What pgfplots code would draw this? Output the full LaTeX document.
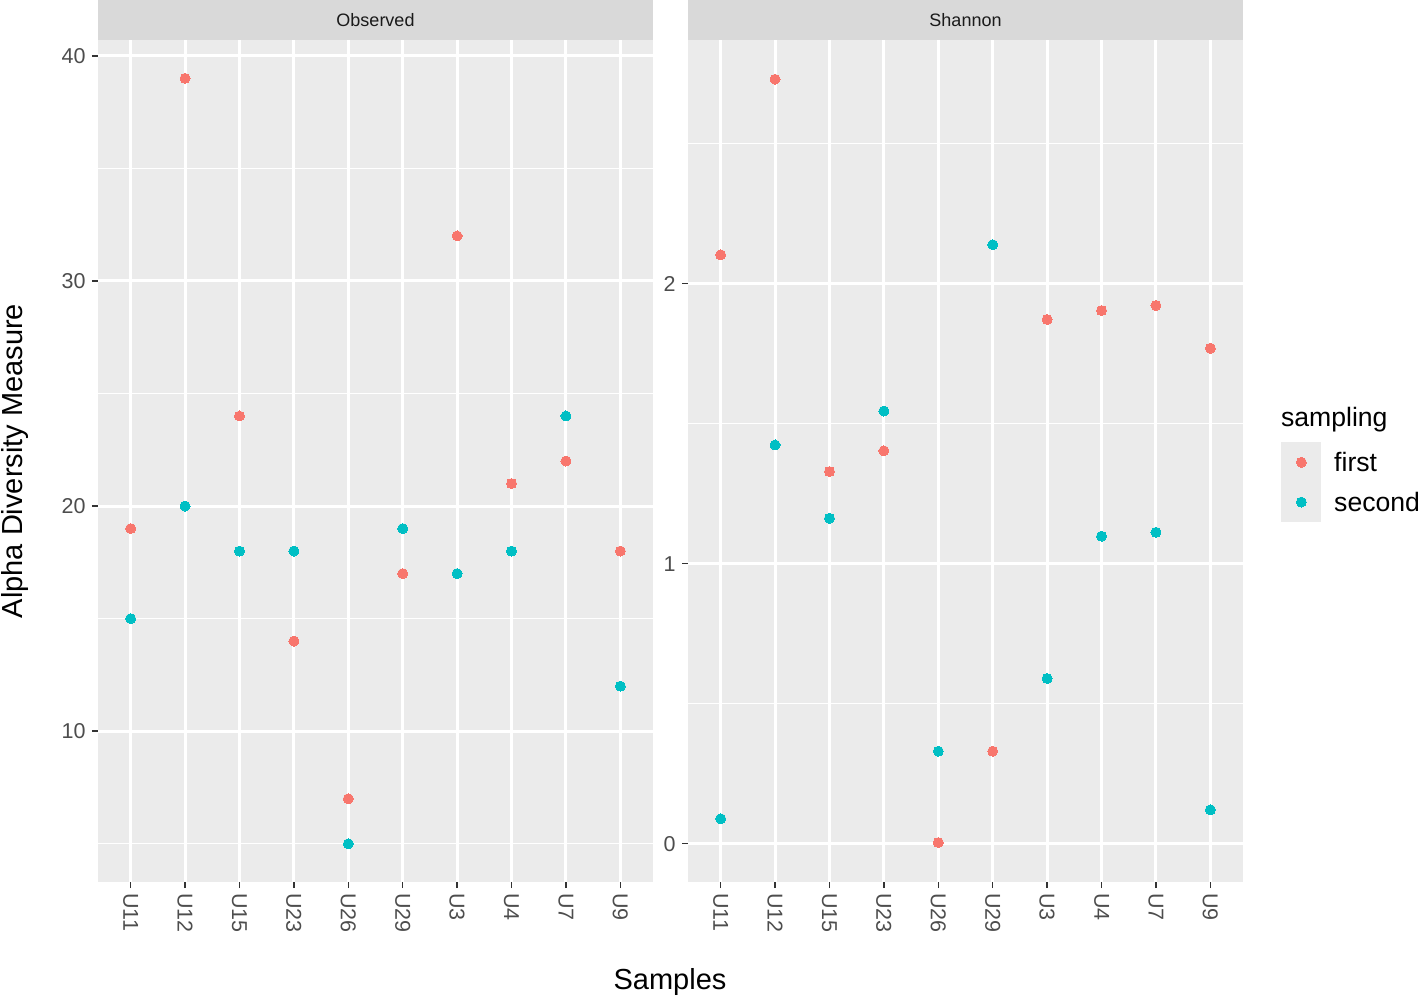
\documentclass[border=0pt]{standalone}
\usepackage{fontspec}
\setmainfont{Liberation Sans}
\usepackage{pgfplots}
\pgfplotsset{compat=1.18}
\definecolor{cfirst}{HTML}{F8766D}
\definecolor{csecond}{HTML}{00BFC4}
\definecolor{panelbg}{HTML}{EBEBEB}
\definecolor{stripbg}{HTML}{D9D9D9}
\definecolor{grey20}{HTML}{333333}
\definecolor{grey30}{HTML}{4D4D4D}
\definecolor{grey10}{HTML}{1A1A1A}
\pgfplotsset{gg/.style={
  scale only axis, width=277.5pt, height=421pt,
  axis background/.style={fill=panelbg},
  axis line style={draw=none},
  xmin=0.4, xmax=10.6, xtick={1,...,10},
  xticklabels={U11,U12,U15,U23,U26,U29,U3,U4,U7,U9},
  tick align=outside, tick pos=left,
  major tick length=3pt, minor tick length=0pt,
  every tick/.style={grey20, line width=0.75pt},
  grid=both,
  major grid style={white, line width=1.5pt},
  minor grid style={white, line width=0.75pt},
  ticklabel style={font=\fontsize{10.75}{12}\selectfont, text=grey30},
  x tick label style={rotate=-90, anchor=west, inner sep=2.5pt},
  y tick label style={inner sep=3pt},
  /pgf/number format/assume math mode=true,
  clip=false,
  legend image code/.code={
    \fill[panelbg] (0pt,-9.75pt) rectangle (19.5pt,9.75pt);
    \draw[mark repeat=2,mark phase=2,#1] plot coordinates {(0pt,0pt) (9.75pt,0pt) (19.5pt,0pt)};
  },
  pf/.style={only marks, mark=*, mark size=2.5pt, color=cfirst, mark options={line width=0pt, fill=cfirst, draw=cfirst}},
  ps/.style={only marks, mark=*, mark size=2.5pt, color=csecond, mark options={line width=0pt, fill=csecond, draw=csecond}},
}}
\begin{document}
\begin{tikzpicture}
\path[use as bounding box] (0,0) rectangle (709pt,-498.5pt);
% strips
\fill[stripbg] (49pt,0pt) rectangle (326.5pt,-20pt);
\fill[stripbg] (344pt,0pt) rectangle (621.5pt,-20pt);
\node[font=\fontsize{9}{10}\selectfont, text=grey10] at (187.75pt,-10pt) {Observed};
\node[font=\fontsize{9}{10}\selectfont, text=grey10] at (482.75pt,-10pt) {Shannon};
\begin{axis}[gg, at={(49pt,-441pt)}, anchor=south west,
  ymin=3.3, ymax=40.7, ytick={10,20,30,40}, minor ytick={5,15,25,35}]
\addplot[pf] coordinates {
(1,19) (2,39) (3,24) (4,14) (5,7) (6,17) (7,32) (8,21) (9,22) (10,18)};
\addplot[ps] coordinates {
(1,15) (2,20) (3,18) (4,18) (5,5) (6,19) (7,17) (8,18) (9,24) (10,12)};
\end{axis}
\begin{axis}[gg, at={(344pt,-441pt)}, anchor=south west,
  ymin=-0.137, ymax=2.87, ytick={0,1,2}, minor ytick={0.5,1.5,2.5},
  legend style={at={(rel axis cs:1.0685,0.5226)}, anchor=north west, draw=none, fill=none,
    inner sep=0pt, row sep=0pt, font=\fontsize{13.3}{15}\selectfont,
    nodes={inner sep=0pt, anchor=mid west, yshift=-2pt},
    /tikz/every odd column/.append style={column sep=6.5pt}},
  ]
\addplot[pf] coordinates {
(1,2.103) (2,2.730) (3,1.329) (4,1.403) (5,0.004) (6,0.330) (7,1.872) (8,1.904) (9,1.922) (10,1.769)};
\addlegendentry{first}
\addplot[ps] coordinates {
(1,0.089) (2,1.424) (3,1.162) (4,1.545) (5,0.330) (6,2.139) (7,0.590) (8,1.098) (9,1.112) (10,0.121)};
\addlegendentry{second}
\end{axis}
\node[font=\fontsize{13.3}{15}\selectfont, anchor=west] at (637pt,-210pt) {sampling};
\node[font=\fontsize{14.5}{16}\selectfont, rotate=90, anchor=base] at (11pt,-230.5pt) {Alpha Diversity Measure};
\node[font=\fontsize{14.5}{16}\selectfont, anchor=base] at (335pt,-494.5pt) {Samples};
\end{tikzpicture}
\end{document}
